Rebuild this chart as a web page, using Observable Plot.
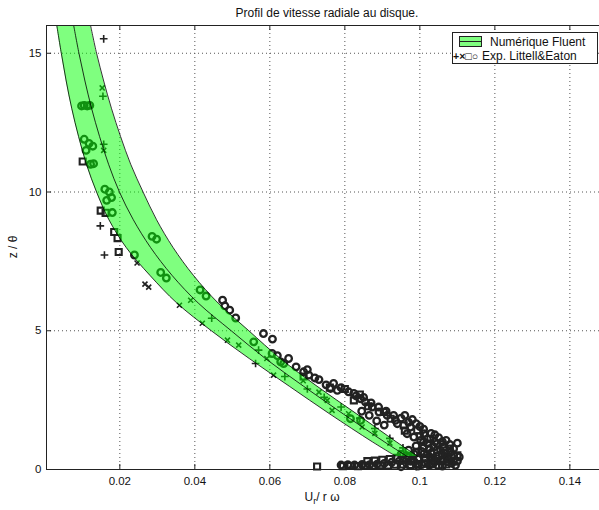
<!DOCTYPE html>
<html>
<head>
<meta charset="utf-8">
<script src="https://cdn.jsdelivr.net/npm/d3@7"></script>
<script src="https://cdn.jsdelivr.net/npm/@observablehq/plot@0.6"></script>
<style>
html,body{margin:0;padding:0;background:#fff;overflow:hidden;}
</style>
</head>
<body>
<div id="chart"></div>
<script>
// ---- axis ticks ----
const xTicks = [0.02, 0.04, 0.06, 0.08, 0.1, 0.12, 0.14];
const yTicks = [0, 5, 10, 15];

// ---- Numerical (Fluent) band ----
const bandZ      = [16, 15, 14, 13, 12, 11, 10, 9, 8, 7, 6, 5, 4, 3, 2, 1, 0.47];
const bandLeft   = [0.0032, 0.0044, 0.0057, 0.0072, 0.0090, 0.0111, 0.0138, 0.0171, 0.0217, 0.0280, 0.0352, 0.0444, 0.0545, 0.0652, 0.0760, 0.0873, 0.0937];
const bandCenter = [0.0077, 0.0091, 0.0107, 0.0125, 0.0146, 0.0170, 0.0199, 0.0236, 0.0282, 0.0339, 0.0409, 0.0497, 0.0588, 0.0690, 0.0796, 0.0905, 0.0966];
const bandRight  = [0.0122, 0.0138, 0.0157, 0.0178, 0.0202, 0.0229, 0.0262, 0.0298, 0.0342, 0.0396, 0.0462, 0.0544, 0.0628, 0.0726, 0.0832, 0.0937, 0.0995];

// ---- Experimental data (Littell & Eaton) ----
const plusX = [0.0157,0.0155,0.0157,0.0148,0.0159,0.0445,0.0570,0.0562,0.0640,0.0700,0.0745,0.0790,0.0840,0.0880,0.0920,0.0955,0.0985,0.0990];
const plusZ = [15.52,13.45,11.72,8.78,7.73,5.45,4.30,3.82,3.35,2.90,2.60,2.25,1.85,1.48,1.12,0.78,0.48,0.10];

const crossX = [0.0153,0.0157,0.0246,0.0267,0.0277,0.0359,0.0389,0.0420,0.0487,0.0517,0.0592,0.0610,0.0689,0.0731,0.0753,0.0766,0.0810,0.0846,0.0880,0.0920,0.0950];
const crossZ = [13.75,11.50,7.44,6.68,6.57,5.92,6.10,5.27,4.66,4.48,4.00,3.40,3.20,2.79,2.49,2.13,2.01,1.53,1.30,0.95,0.62];

const squareX = [0.0101,0.0149,0.0162,0.0185,0.0194,0.0197,0.0726,0.0795,0.0815,0.0835,0.0855,0.0875,0.0895,0.0915,0.0935,0.0955,0.0975,0.0995,0.0824,0.0862,0.0904,0.0922,0.0957,0.0993,0.1028,0.1064,0.1100,0.0690,0.0760,0.1040,0.1020,0.1075,
  0.0860,0.0880,0.0900,0.0920,0.0940,0.1030,0.1050,0.1070,0.1090,0.1060,0.1080,0.0840,0.0800,0.0960,0.1000];
const squareZ = [11.10,9.33,9.25,8.56,8.34,7.84,0.11,0.12,0.13,0.12,0.14,0.13,0.15,0.14,0.17,0.18,0.16,0.20,2.49,2.28,2.07,1.83,1.59,1.41,1.11,0.81,0.51,3.35,2.95,0.30,0.55,0.45,
  0.30,0.32,0.35,0.38,0.42,0.20,0.15,0.18,0.30,0.90,0.75,2.70,2.90,1.40,1.20];

const circleX = [0.0098,0.0105,0.0113,0.0120,0.0105,0.0118,0.0128,0.0110,0.0122,0.0130,0.0160,0.0172,0.0178,0.0165,0.0180,0.0286,0.0298,0.0239,0.0309,0.0324,0.0414,0.0430,0.0474,0.0480,0.0493,0.0509,0.0557,0.0583,0.0607,0.0606,0.0629,0.0637,0.0690,0.0704,0.0731,0.0762,0.0780,
  0.0824,0.0842,0.0855,0.0873,0.0891,0.0913,0.0935,0.0815,0.0842,0.0940,0.0975,0.1011,0.1046,0.1082,0.0966,0.0984,0.1002,0.1020,0.1037,0.1055,0.1011,0.1028,0.1046,0.1064,0.1090,0.1100,0.1070,0.1040,0.1000,0.0980,0.0960,
  0.0790,0.0808,0.0826,0.0846,0.0866,0.0886,0.0905,0.0925,0.0945,0.0965,0.0985,0.1005,0.1025,0.0950,0.0970,0.0990,0.1010,0.1085,0.1060,
  0.0950,0.0970,0.0990,0.1010,0.1030,0.1050,0.1070,0.1090,0.1100,0.1080,0.1060,0.1045,0.1025,0.1005,0.0985,0.0965,0.1015,0.0995,0.0975,0.0955,0.1035,0.1105,0.1080,0.1060,0.1050,0.1030,0.1010,0.0990,0.0970,0.0950,0.0930,0.0910,0.0890,0.0870,0.0850,0.0830,0.0810,0.0790,0.0770,0.0750,0.0720,0.0700,0.0670,0.0650,0.0620,
  0.1095,0.1075,0.1055,0.1035,0.1015,0.0995,0.0975,0.1040,0.1020,0.0905,0.0885,0.0865,0.0845];
const circleZ = [13.10,13.12,13.10,13.12,11.90,11.75,11.65,11.50,11.00,11.02,10.10,10.00,9.80,9.70,9.26,8.40,8.30,7.73,7.10,6.90,6.47,6.25,6.10,5.90,5.74,5.46,4.60,4.90,4.70,4.18,3.88,3.82,3.52,3.40,3.24,2.92,2.85,
  2.74,2.55,2.43,2.25,2.07,1.95,1.77,1.83,1.77,1.65,1.53,1.29,0.93,0.63,1.29,1.17,1.05,0.93,0.81,0.69,0.57,0.44,0.39,0.33,0.75,0.95,1.05,1.25,1.55,1.80,1.95,
  0.16,0.17,0.16,0.18,0.17,0.19,0.22,0.26,0.30,0.36,0.28,0.18,0.15,0.10,0.45,0.62,0.78,0.22,0.12,
  0.55,0.70,0.85,1.00,0.60,0.50,0.60,0.50,0.30,0.35,0.55,0.70,0.75,0.65,0.55,0.50,0.40,0.38,0.30,0.35,0.20,0.45,0.90,1.00,1.15,1.30,1.45,1.65,1.70,1.85,1.95,2.10,2.25,2.40,2.60,2.65,2.80,2.95,3.10,3.05,3.30,3.60,3.70,4.00,4.10,
  0.15,0.28,0.32,0.40,0.22,0.12,0.15,1.00,1.10,1.60,1.75,1.95,2.10];

// ---- build tables ----
const band = bandZ.map((z, i) => ({z, l: bandLeft[i], c: bandCenter[i], r: bandRight[i]}));
const pts = (xs, zs) => xs.map((x, i) => ({x, z: zs[i]}));
const plusData = pts(plusX, plusZ), crossData = pts(crossX, crossZ),
      squareData = pts(squareX, squareZ), circleData = pts(circleX, circleZ);

const FONT = "'Liberation Sans', Arial, Helvetica, sans-serif";
const ink = "#222";
const dotOpts = (sym, r, sw) => ({x: "x", y: "z", symbol: sym, r, stroke: ink, strokeWidth: sw, fill: "none"});
const curve = "catmull-rom";

const chart = Plot.plot({
  width: 599, height: 510,
  marginLeft: 46, marginRight: 0, marginTop: 25, marginBottom: 41,
  style: {fontFamily: FONT, fontSize: "11.5px", color: "#111", background: "#fff"},
  x: {domain: [0.00045, 0.1479], ticks: xTicks, tickFormat: d => String(+d.toFixed(2)), tickSize: 0, tickPadding: 7, label: null},
  y: {domain: [0, 16], ticks: yTicks, tickSize: 0, tickPadding: 5, label: null},
  marks: [
    Plot.ruleX(xTicks, {stroke: "#555", strokeDasharray: "1,3", strokeWidth: 1}),
    Plot.ruleY(yTicks.slice(1), {stroke: "#555", strokeDasharray: "1,3", strokeWidth: 1}),
    Plot.dot(plusData, dotOpts("plus", 2.6, 1.6)),
    Plot.dot(crossData, dotOpts("times", 2.4, 1.6)),
    Plot.dot(squareData, dotOpts("square", 3.4, 2.1)),
    Plot.dot(circleData, dotOpts("circle", 3.3, 2.3)),
    Plot.areaX(band, {y: "z", x1: "l", x2: "r", fill: "#00ff00", fillOpacity: 0.5, curve}),
    Plot.lineX(band, {x: "l", y: "z", stroke: "#000", strokeWidth: 0.8, curve}),
    Plot.lineX(band, {x: "c", y: "z", stroke: "#000", strokeWidth: 0.8, curve}),
    Plot.lineX(band, {x: "r", y: "z", stroke: "#000", strokeWidth: 0.8, curve}),
    // inner tick marks
    Plot.ruleX(xTicks, {y1: 0, y2: 0.18, stroke: "#222"}),
    Plot.ruleX(xTicks, {y1: 16, y2: 15.82, stroke: "#222"}),
    Plot.ruleY(yTicks, {x1: 0.00045, x2: 0.0018, stroke: "#222"}),
    // axes frame (left, bottom, top)
    Plot.ruleY([0, 16], {stroke: "#222", strokeWidth: 1}),
    Plot.ruleX([0.00045], {stroke: "#222", strokeWidth: 1})
  ]
});

const svg = d3.select(chart);
const addText = (sel, x, y, txt, opts = {}) => sel.append("text")
  .attr("x", x).attr("y", y).attr("text-anchor", opts.anchor || "start")
  .attr("font-family", opts.family || FONT).attr("font-size", opts.size || 12)
  .attr("font-weight", opts.weight || "normal").attr("fill", "#111").text(txt);

// title
addText(svg, 327, 16.5, "Profil de vitesse radiale au disque.", {anchor: "middle"});
// x label
const xl = addText(svg, 322, 501, "", {anchor: "middle"});
xl.append("tspan").text("U");
xl.append("tspan").attr("dy", 3).attr("font-size", 9).text("r");
xl.append("tspan").attr("dy", -3).text("/ r ω");
// y label
svg.append("text").attr("transform", "translate(17,247) rotate(-90)").attr("text-anchor", "middle")
  .attr("font-family", FONT).attr("font-size", 12).attr("fill", "#111")
  .text("z / θ");
// legend
const lg = svg.append("g");
lg.append("rect").attr("x", 452.5).attr("y", 32.5).attr("width", 145).attr("height", 31)
  .attr("fill", "#fff").attr("stroke", "#222");
lg.append("rect").attr("x", 459.5).attr("y", 36.5).attr("width", 22).attr("height", 10)
  .attr("fill", "#80ff80").attr("stroke", "#222");
lg.append("line").attr("x1", 459.5).attr("x2", 481.5).attr("y1", 41.5).attr("y2", 41.5).attr("stroke", "#222");
addText(lg, 490, 46, "Numérique Fluent");
addText(lg, 453, 59.5, "+×□○", {weight: "bold", size: 10.5})
  .attr("textLength", 25).attr("lengthAdjust", "spacingAndGlyphs");
addText(lg, 482, 59.5, "Exp. Littell&Eaton");

document.getElementById("chart").appendChild(chart);
</script>
</body>
</html>
